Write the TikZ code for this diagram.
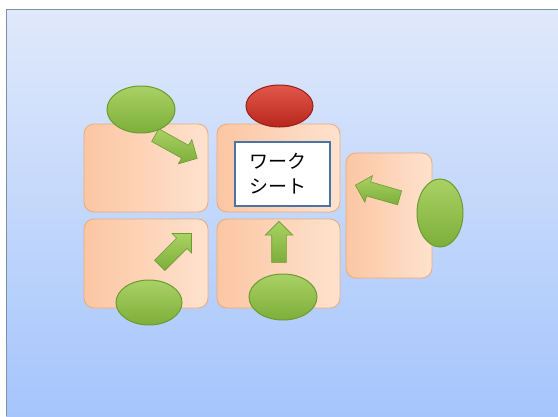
\documentclass[tikz,border=0pt]{standalone}
\usepackage{fontspec}
\newfontfamily\cjk{Noto Sans CJK JP}
\usetikzlibrary{shapes.geometric,shapes.arrows}
\definecolor{bgtop}{HTML}{E0E9FB}
\definecolor{bgbot}{HTML}{A5C5FC}
\definecolor{edgecol}{HTML}{7F8FA2}
\definecolor{peachA}{HTML}{FCC6A2}
\definecolor{peachB}{HTML}{FEE2CE}
\definecolor{peachEdge}{HTML}{EBAA7C}
\definecolor{greenA}{HTML}{A9D264}
\definecolor{greenB}{HTML}{7DAE3A}
\definecolor{greenEdge}{HTML}{6E9A32}
\definecolor{redA}{HTML}{E2584A}
\definecolor{redB}{HTML}{B8261C}
\definecolor{redEdge}{HTML}{962018}
\definecolor{boxblue}{HTML}{4A74A8}
\tikzset{
  pbox/.style={rounded corners=10pt, draw=peachEdge, line width=0.8pt, left color=peachA, right color=peachB, inner sep=0pt},
  gell/.style={ellipse, draw=greenEdge, line width=1pt, top color=greenA, bottom color=greenB, inner sep=0pt},
  rell/.style={ellipse, draw=redEdge, line width=1pt, top color=redA, bottom color=redB, inner sep=0pt},
  garrow/.style={single arrow, draw=greenEdge, line width=0.6pt, top color=greenA, bottom color=greenB, inner xsep=0pt, inner ysep=7pt, minimum width=27pt, single arrow head extend=6.5pt, single arrow head indent=0pt},
  wbox/.style={rectangle, draw=boxblue, line width=2pt, fill=white, inner sep=0pt}
}
\begin{document}
\begin{tikzpicture}[x=1pt,y=-1pt]
\useasboundingbox (0,0) rectangle (558,416);
\fill[white] (0,0) rectangle (558,416);
\shade[top color=bgtop, bottom color=bgbot] (6,9) rectangle (558,416);
\draw[edgecol, line width=1.2pt] (6.5,416) -- (6.5,9.5) -- (558,9.5);

% boxes
\node[pbox, minimum width=124pt, minimum height=88pt] (tl) at (146,168) {};
\node[pbox, minimum width=123pt, minimum height=88pt] (tm) at (278.5,168) {};
\node[pbox, minimum width=124pt, minimum height=89pt] (bl) at (146,263.5) {};
\node[pbox, minimum width=123pt, minimum height=89pt] (bm) at (278.5,263.5) {};
\node[pbox, minimum width=86pt, minimum height=125pt] (rb) at (389,215.5) {};

% arrows
\node[garrow, minimum height=48pt, rotate=-29] (a1) at (173,145) {};
\node[garrow, minimum height=45pt, rotate=45] (a2) at (173,252) {};
\node[garrow, minimum height=41pt, rotate=90] (a3) at (279,245.5) {};
\node[garrow, minimum height=46pt, rotate=164] (a4) at (381,192.5) {};

% ellipses
\node[gell, minimum width=68pt, minimum height=47pt] (e1) at (141,109.5) {};
\node[rell, minimum width=67pt, minimum height=42pt] (e2) at (279.5,106) {};
\node[gell, minimum width=66pt, minimum height=45pt] (e3) at (149,302.5) {};
\node[gell, minimum width=68pt, minimum height=46pt] (e4) at (283,297) {};
\node[gell, minimum width=46pt, minimum height=68pt] (e5) at (440,213) {};

% worksheet box
\node[wbox, minimum width=95pt, minimum height=64pt] (ws) at (282.5,174) {};
\node[font=\cjk\fontsize{19}{25}\selectfont, align=left, inner sep=0pt] (wt) at (278,174) {ワーク\\シート};
\end{tikzpicture}
\end{document}
